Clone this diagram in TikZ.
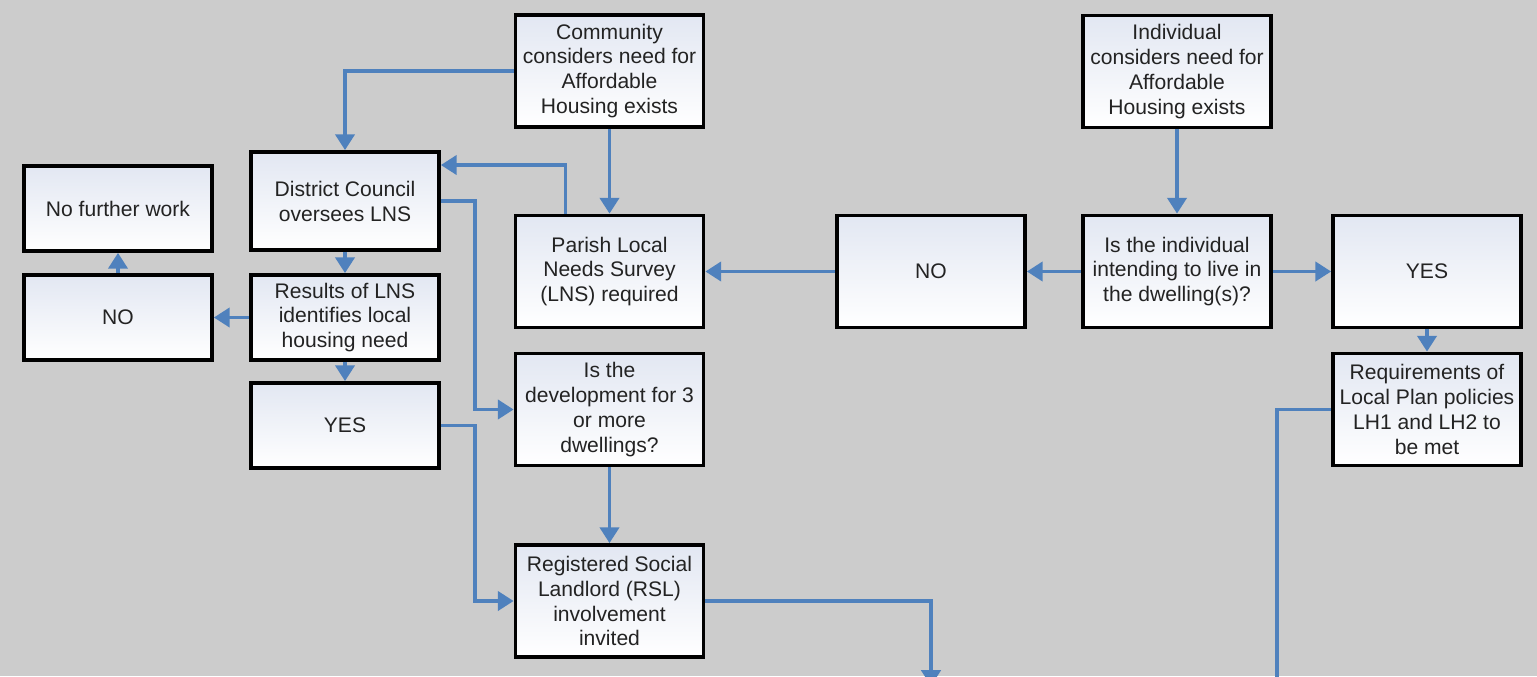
\documentclass[tikz,border=0pt]{standalone}
\usepackage{fontspec}
\setmainfont{Liberation Sans}
\usepackage{tikz}
\usetikzlibrary{arrows.meta,shapes}
\definecolor{flowblue}{RGB}{79,129,189}
\definecolor{paper}{RGB}{204,204,204}
\definecolor{boxtint}{RGB}{226,231,242}
\definecolor{inkgrey}{RGB}{35,35,35}
\tikzset{
    box/.style={draw=black, line width=2.2pt, top color=boxtint, bottom color=white,
        align=center, inner sep=2pt, text=inkgrey,
        font=\fontsize{12pt}{14.2pt}\selectfont},
    bigbox/.style={box, minimum width=3.76cm, minimum height=2.24cm},
    smallbox/.style={box, minimum width=3.76cm, minimum height=1.7cm},
    flow/.style={draw=flowblue, line width=1.9pt,
        -{Triangle[width=11pt,length=9pt]}},
}
\begin{document}
\begin{tikzpicture}[x=0.02cm, y=-0.02cm]
	\clip (0,0) rectangle (1537,676);
	\fill[paper] (0,0) rectangle (1537,676);
	% community side
	\node[bigbox] (community) at (609.5,71) {Community\\considers need for\\Affordable\\Housing exists};
	\node[smallbox, minimum height=1.96cm] (district) at (345,201) {District Council\\oversees LNS};
	\node[smallbox] (nofurther) at (118,208.5) {No further work};
	\node[smallbox] (noleft) at (118,317.5) {NO};
	\node[smallbox] (results) at (345,317.5) {Results of LNS\\identifies local\\housing need};
	\node[smallbox] (yesleft) at (345,425.5) {YES};
	\node[bigbox] (parish) at (609.5,271.5) {Parish Local\\Needs Survey\\(LNS) required};
	\node[bigbox] (isdev) at (609.5,409.5) {Is the\\development for 3\\or more\\dwellings?};
	\node[bigbox] (rsl) at (609.5,601) {Registered Social\\Landlord (RSL)\\involvement\\invited};
	% individual side
	\node[bigbox] (individual) at (1177,71.5) {Individual\\considers need for\\Affordable\\Housing exists};
	\node[bigbox] (nomid) at (931,271.5) {NO};
	\node[bigbox] (isind) at (1177,271.5) {Is the individual\\intending to live in\\the dwelling(s)?};
	\node[bigbox] (yesright) at (1427,271.5) {YES};
	\node[bigbox] (req) at (1427,409.5) {Requirements of\\Local Plan policies\\LH1 and LH2 to\\be met};
	\coordinate (nextA) at (931,686);
	\coordinate (nextB) at (1277,700);

	\draw[flow] (community.west) -| (district.north);
	\draw[flow] (community) -- (parish);
	\draw[flow] ([xshift=-0.88cm]parish.north) |- ([yshift=0.72cm]district.east);
	\draw[flow] (district.east) -- ++(34,0) |- (isdev.west);
	\draw[flow] (district) -- (results);
	\draw[flow] (results) -- (noleft);
	\draw[flow] (noleft) -- (nofurther);
	\draw[flow] (results) -- (yesleft);
	\draw[flow] (yesleft.east) -- ++(34,0) |- (rsl.west);
	\draw[flow] (isdev) -- (rsl);
	\draw[flow] (rsl.east) -| (nextA);
	\draw[flow] (individual) -- (isind);
	\draw[flow] (isind) -- (nomid);
	\draw[flow] (isind) -- (yesright);
	\draw[flow] (nomid) -- (parish);
	\draw[flow] (yesright) -- (req);
	\draw[flow] (req.west) -| (nextB);
\end{tikzpicture}
\end{document}
